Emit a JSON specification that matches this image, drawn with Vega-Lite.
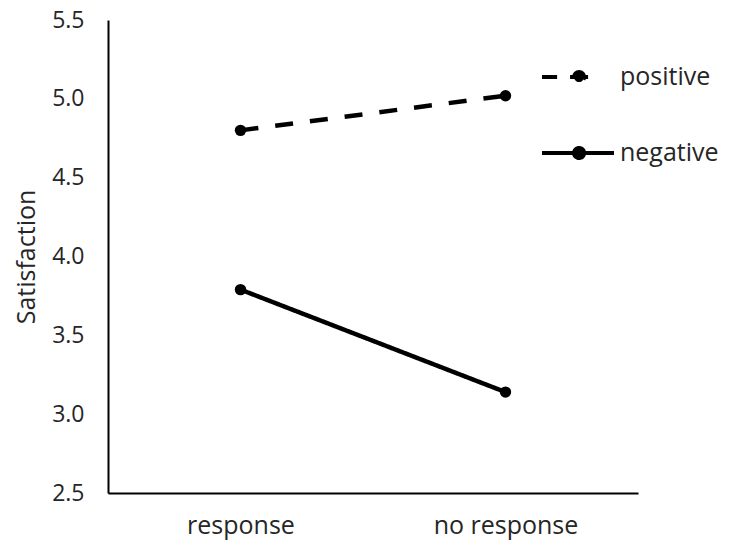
{
  "$schema": "https://vega.github.io/schema/vega-lite/v6.json",
  "autosize": "none",
  "width": 530,
  "height": 473,
  "padding": {"left": 108, "top": 20, "right": 94, "bottom": 59},
  "background": "white",
  "config": {
    "view": {"stroke": null},
    "font": "Open Sans"
  },
  "data": {
    "values": [
      {"condition": "response", "valence": "positive", "satisfaction": 4.8},
      {"condition": "no response", "valence": "positive", "satisfaction": 5.02},
      {"condition": "response", "valence": "negative", "satisfaction": 3.79},
      {"condition": "no response", "valence": "negative", "satisfaction": 3.14}
    ]
  },
  "encoding": {
    "x": {
      "field": "condition", "type": "nominal", "sort": ["response", "no response"],
      "scale": {"type": "point", "padding": 0.5},
      "axis": {"title": null, "labelAngle": 0, "labelPadding": 20, "grid": false, "ticks": false, "domainColor": "black", "domainWidth": 2, "labelColor": "#262626", "labelFontSize": 25, "labelFont": "Open Sans"}
    },
    "y": {
      "field": "satisfaction", "type": "quantitative",
      "scale": {"domain": [2.5, 5.5], "nice": false, "zero": false},
      "axis": {"title": "Satisfaction", "values": [2.5, 3, 3.5, 4, 4.5, 5, 5.5], "format": ".1f", "labelPadding": 24, "titlePadding": 12, "grid": false, "ticks": false, "domainColor": "black", "domainWidth": 2, "labelColor": "#262626", "labelFontSize": 23, "labelFont": "Open Sans", "titleFontSize": 25, "titleFontWeight": "normal", "titleColor": "#262626", "titleFont": "Open Sans"}
    },
    "strokeDash": {
      "field": "valence", "type": "nominal",
      "scale": {"domain": ["positive", "negative"], "range": [[18, 17], [1, 0]]},
      "legend": {
        "title": null, "orient": "none", "legendX": 432, "legendY": 19,
        "symbolSize": 5184, "symbolStrokeWidth": 4, "symbolStrokeColor": "black", "symbolFillColor": "black",
        "labelFontSize": 25, "labelColor": "#262626", "labelFont": "Open Sans", "rowPadding": 24, "labelOffset": 4,
        "encode": {"symbols": {"update": {
          "stroke": {"value": "black"}, "strokeWidth": {"value": 4}, "fill": {"value": "black"}, "opacity": {"value": 1},
          "strokeDash": {"value": [1, 0]},
          "shape": {"signal": "datum.value === 'positive' ? 'M-1,0H-0.58M-0.22,0H0.52M-0.11,0A0.14,0.14 0 1,1 0.17,0A0.14,0.14 0 1,1 -0.11,0' : 'M-1,0H1M-0.11,0A0.14,0.14 0 1,1 0.17,0A0.14,0.14 0 1,1 -0.11,0'"}
        }}}
      }
    }
  },
  "layer": [
    {"mark": {"type": "line", "color": "black", "strokeWidth": 4.5}},
    {"mark": {"type": "point", "filled": true, "color": "black", "size": 130, "opacity": 1}}
  ]
}
